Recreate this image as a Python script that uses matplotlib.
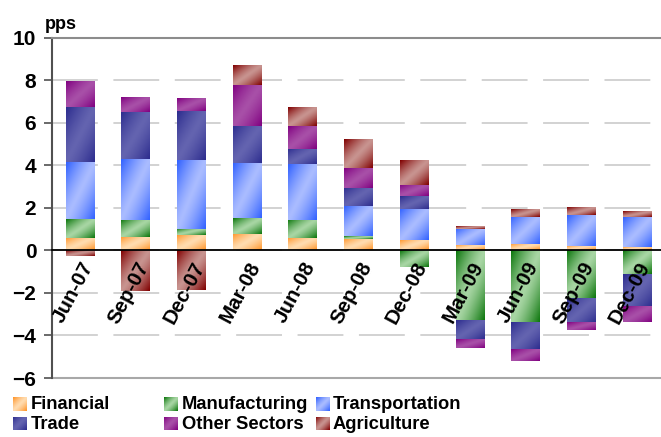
import numpy as np
import matplotlib.pyplot as plt
from matplotlib.colors import to_rgb

plt.rcParams['font.family'] = ['Liberation Sans', 'DejaVu Sans']
plt.rcParams['font.weight'] = 'bold'
plt.rcParams['lines.scale_dashes'] = False

# contributions by sector, pps
categories = ['Jun-07', 'Sep-07', 'Dec-07', 'Mar-08', 'Jun-08', 'Sep-08',
              'Dec-08', 'Mar-09', 'Jun-09', 'Sep-09', 'Dec-09']
financial = [0.58, 0.62, 0.71, 0.76, 0.57, 0.53, 0.48, 0.24, 0.29, 0.20, 0.15]
manufacturing = [0.89, 0.81, 0.30, 0.75, 0.85, 0.14, -0.79, -3.33, -3.42, -2.25, -1.12]
transportation = [2.68, 2.86, 3.23, 2.59, 2.63, 1.41, 1.46, 0.76, 1.27, 1.45, 1.41]
trade = [2.58, 2.21, 2.30, 1.74, 0.71, 0.85, 0.61, -0.85, -1.23, -1.17, -1.55]
other = [1.22, 0.70, 0.61, 1.93, 1.08, 0.94, 0.52, -0.40, -0.56, -0.33, -0.71]
agriculture = [-0.27, -1.92, -1.87, 0.94, 0.85, 1.32, 1.17, 0.14, 0.33, 0.33, 0.28]

series = [
    ('Financial', financial, '#ff9428', '#ffdcb0'),
    ('Manufacturing', manufacturing, '#0c760c', '#a8d6a4'),
    ('Transportation', transportation, '#3262ff', '#aabcff'),
    ('Trade', trade, '#2c2c8e', '#6464b0'),
    ('Other Sectors', other, '#800080', '#a850a8'),
    ('Agriculture', agriculture, '#800000', '#c89490'),
]


def gradient(dark, light, nx=30, ny=60):
    # diagonal gradient: dark in top-left and bottom-right corners, light band in the middle
    X, Y = np.meshgrid(np.linspace(0, 1, nx), np.linspace(0, 1, ny))
    w = np.abs(X + Y - 1) ** 1.3
    d = np.array(to_rgb(dark))
    l = np.array(to_rgb(light))
    return l + (d - l) * w[..., None]


fig = plt.figure(figsize=(6.61, 4.37), dpi=100)
ax = fig.add_axes([0.0791, 0.135, 0.927, 0.7787])

x = np.arange(len(categories))
width = 0.52
pos = np.zeros(len(x))
neg = np.zeros(len(x))
for name, vals, dark, light in series:
    vals = np.array(vals)
    bottom = np.where(vals >= 0, pos, neg)
    bars = ax.bar(x, vals, width, bottom=bottom, color='none', linewidth=0)
    img = gradient(dark, light)
    for r in bars:
        x0, y0 = r.get_x(), r.get_y()
        x1, y1 = x0 + r.get_width(), y0 + r.get_height()
        ax.imshow(img, extent=(x0, x1, min(y0, y1), max(y0, y1)), origin='upper',
                  aspect='auto', interpolation='bilinear', zorder=2)
    pos = pos + np.where(vals > 0, vals, 0)
    neg = neg + np.where(vals < 0, vals, 0)

ax.set_xlim(-0.5, len(x) - 0.5)
ax.set_ylim(-6, 10)
ax.set_yticks(range(-6, 11, 2))
ax.tick_params(axis='y', labelsize=15, length=5.5, width=1.2, color='#505050', pad=6)
for t in ax.get_yticklabels():
    t.set_fontweight('bold')

ax.yaxis.grid(True, color='#d2d2d2', lw=1.4, linestyle=(0, (33, 11.2)))
ax.set_axisbelow(True)

# category axis sits on the zero line, labels drawn over the bars
ax.spines['bottom'].set_position(('data', 0))
ax.spines['bottom'].set_color('black')
ax.spines['bottom'].set_linewidth(1.3)
ax.spines['bottom'].set_zorder(3)
ax.tick_params(axis='x', length=0, pad=6)
ax.set_xticks(x, categories, fontsize=14.8, fontweight='bold',
              rotation=62, ha='right', rotation_mode='anchor')
ax.xaxis.set_zorder(5)

ax.spines['right'].set_visible(False)
ax.spines['left'].set_color('#505050')
ax.spines['left'].set_linewidth(1.5)
ax.spines['top'].set_color('#8c8c8c')
ax.spines['top'].set_linewidth(1.5)
ax.axhline(-6, color='#a8a8a8', lw=1.5, zorder=1, clip_on=False)

fig.text(45 / 661, 1 - 29 / 437, 'pps', fontsize=13, fontweight='bold', va='baseline')

# legend: gradient swatches with labels, two rows of three
cols = [(12.7, 30.5), (164, 181.5), (316, 333)]
rows = [404, 424]
for i, (name, vals, dark, light) in enumerate(series):
    col = cols[i % 3]
    row = rows[i // 3]
    sw = fig.add_axes([col[0] / 661, 1 - (row + 6.5) / 437, 13.5 / 661, 13.5 / 437])
    sw.imshow(gradient(dark, light, 20, 20), aspect='auto', interpolation='bilinear')
    sw.axis('off')
    fig.text(col[1] / 661, 1 - (row + 0.5) / 437, name, fontsize=13.2,
             fontweight='bold', va='center')

fig.savefig('out.png', dpi=100)
